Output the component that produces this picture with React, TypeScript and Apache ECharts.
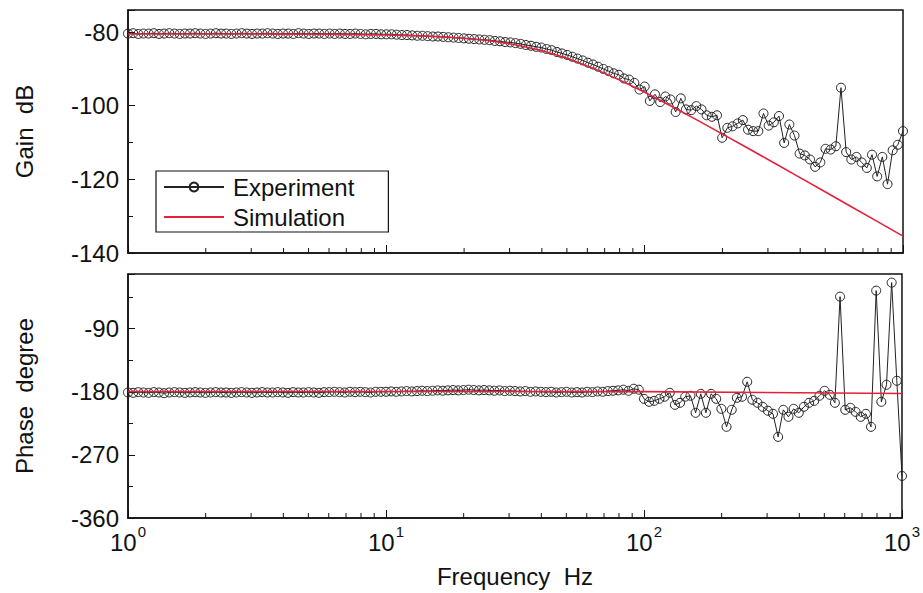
import React, { useEffect, useRef } from "react";
import * as echarts from "echarts";

// frequency mantissas (50 log-spaced points per decade)
const MANTISSA = [
  1.0, 1.047, 1.096, 1.148, 1.202, 1.259, 1.318, 1.38, 1.445, 1.514,
  1.585, 1.66, 1.738, 1.82, 1.905, 1.995, 2.089, 2.188, 2.291, 2.399,
  2.512, 2.63, 2.754, 2.884, 3.02, 3.162, 3.311, 3.467, 3.631, 3.802,
  3.981, 4.169, 4.365, 4.571, 4.786, 5.012, 5.248, 5.495, 5.754, 6.026,
  6.31, 6.607, 6.918, 7.244, 7.586, 7.943, 8.318, 8.71, 9.12, 9.55,
];
const DECADES = [1, 10, 100];
const LAST_FREQ = [1000];

const GAIN_EXP = [
  -80.4, -80.3, -80.5, -80.4, -80.4, -80.3, -80.5, -80.4, -80.3, -80.4,
  -80.5, -80.4, -80.4, -80.3, -80.4, -80.5, -80.4, -80.3, -80.4, -80.4,
  -80.5, -80.4, -80.3, -80.4, -80.5, -80.4, -80.4, -80.3, -80.4, -80.5,
  -80.4, -80.4, -80.5, -80.3, -80.4, -80.5, -80.4, -80.4, -80.5, -80.4,
  -80.5, -80.4, -80.5, -80.5, -80.4, -80.5, -80.6, -80.5, -80.5, -80.6,
  -80.6, -80.6, -80.7, -80.8, -80.8, -80.9, -81.0, -81.0, -81.1, -81.2,
  -81.2, -81.3, -81.4, -81.5, -81.6, -81.7, -81.8, -81.9, -82.0, -82.1,
  -82.2, -82.4, -82.5, -82.7, -82.8, -83.0, -83.2, -83.5, -83.7, -84.0,
  -84.2, -84.6, -84.9, -85.4, -85.8, -86.2, -86.7, -87.2, -87.7, -88.3,
  -88.8, -89.4, -90.0, -90.6, -91.2, -91.6, -92.6, -92.9, -93.8, -95.6,
  -94.8, -98.7, -96.9, -99.0, -97.5, -98.3, -101.7, -98.0, -101.0, -101.2,
  -100.1, -101.0, -102.6, -103.0, -102.6, -108.7, -106.0, -105.6, -104.8, -103.9,
  -106.5, -106.9, -106.9, -102.1, -105.4, -104.5, -102.8, -110.1, -105.1, -108.1,
  -113.0, -113.5, -114.6, -116.6, -115.4, -111.7, -111.9, -111.0, -95.1, -112.6,
  -114.6, -113.9, -115.4, -116.9, -113.3, -119.2, -113.9, -121.3, -112.1, -110.6,
  -106.9,
];

const PHASE_EXP = [
  -181, -181.5, -180.5, -181, -181.5, -180.5, -181, -182, -181, -180.5,
  -181, -181.5, -181, -180.5, -181, -181.5, -181, -180.5, -181, -181,
  -181.5, -181, -180.5, -181, -181.5, -181, -180.5, -181, -181, -180.5,
  -181, -181.5, -180.5, -181, -181, -180.5, -181, -181.5, -180.5, -180.5,
  -180, -180.5, -181, -180, -180.5, -180, -180.5, -181, -180, -180,
  -180, -179.5, -180, -179.5, -179, -179.5, -179, -178.5, -179, -178.5,
  -178, -178.5, -178, -177.5, -178, -177.5, -177, -177.5, -178, -177.5,
  -178, -178.5, -178, -179, -178.5, -179, -179.5, -179, -180, -179.5,
  -180, -180.5, -180, -181, -180.5, -180, -181, -180.5, -181, -180,
  -180.5, -179.5, -180, -179, -178.5, -178,
  -177, -178.6, -175.7, -177, -190, -194.3, -192.9, -190, -187, -181.4,
  -198.6, -195.7, -187, -185.7, -210, -182.9, -210, -182.9, -190, -204.3,
  -230, -205.7, -188.6, -187.1, -165.7, -191.4, -195.7, -201.4, -207, -211.4,
  -244.3, -205.7, -215.7, -204.3, -210, -201.4, -195.7, -192.9, -185.7, -178.6,
  -184.3, -195.7, -44.3, -205.7, -202.9, -208.6, -215.7, -211.4, -230, -35.7,
  -194.3, -170, -24.3, -164.3, -300,
];

const SIM_FREQ = [
  1, 1.259, 1.585, 1.995, 2.512, 3.162, 3.981, 5.012, 6.31, 7.943,
  10, 12.59, 15.85, 19.95, 25.12, 31.62, 39.81, 50.12, 63.1, 79.43,
  100, 125.9, 158.5, 199.5, 251.2, 316.2, 398.1, 501.2, 631, 794.3, 1000,
];
const SIM_GAIN = [
  -80.5, -80.5, -80.51, -80.51, -80.52, -80.53, -80.54, -80.57, -80.61, -80.68,
  -80.79, -80.96, -81.23, -81.67, -82.36, -83.42, -84.98, -87.11, -89.79, -92.91,
  -96.35, -99.99, -103.77, -107.64, -111.55, -115.5, -119.46, -123.44, -127.43, -131.42, -135.41,
];
const SIM_PHASE_FREQ = [1, 10, 100, 1000];
const SIM_PHASE = [-179.5, -179.5, -179.8, -182.5];

const MINOR_TICKS = [
  2, 3, 4, 5, 6, 7, 8, 9,
  20, 30, 40, 50, 60, 70, 80, 90,
  200, 300, 400, 500, 600, 700, 800, 900,
];

const GAIN_RANGE = [-140, -74];
const PHASE_RANGE = [-360, -12];

const FONT = "'Liberation Sans', Arial, sans-serif";
const INK = "#111";
const RED = "#e2223c";

export default function App() {
  const ref = useRef<HTMLDivElement>(null);

  useEffect(() => {
    if (!ref.current) return;
    const chart = echarts.init(ref.current, undefined, { renderer: "svg" });

    const FREQ = DECADES.flatMap((d) => MANTISSA.map((m) => +(m * d).toPrecision(4))).concat(LAST_FREQ);
    const gainExp = FREQ.map((f, i) => [f, GAIN_EXP[i]]);
    const phaseExp = FREQ.map((f, i) => [f, PHASE_EXP[i]]);
    const gainSim = SIM_FREQ.map((f, i) => [f, SIM_GAIN[i]]);
    const phaseSim = SIM_PHASE_FREQ.map((f, i) => [f, SIM_PHASE[i]]);

    const xAxisBase = (gridIndex: number, showLabel: boolean) => ({
      type: "log",
      logBase: 10,
      gridIndex,
      min: 1,
      max: 1000,
      axisLine: { show: true, lineStyle: { color: INK, width: 1.5 } },
      axisTick: { show: true, inside: true, length: 8, lineStyle: { color: INK, width: 1 } },
      splitLine: { show: false },
      axisLabel: {
        show: showLabel,
        margin: 6,
        formatter: (v: number) => `{b|10}{s|${Math.round(Math.log10(v))}}`,
        rich: {
          b: { fontSize: 24, fontFamily: FONT, color: INK, lineHeight: 30, verticalAlign: "bottom" },
          s: { fontSize: 15, fontFamily: FONT, color: INK, lineHeight: 30, verticalAlign: "top", padding: [0, 0, 0, 1] },
        },
      },
      name: showLabel ? "Frequency  Hz" : "",
      nameLocation: "middle",
      nameGap: 46,
      nameTextStyle: { fontSize: 24, fontFamily: FONT, color: INK },
    });

    const yAxisBase = (gridIndex: number, range: number[], interval: number, name: string) => ({
      type: "value",
      gridIndex,
      min: range[0],
      max: range[1],
      interval,
      axisLine: { show: true, lineStyle: { color: INK, width: 1.5 } },
      axisTick: { show: true, inside: true, length: 7, lineStyle: { color: INK, width: 1 } },
      minorTick: { show: true, splitNumber: 2, length: 5, lineStyle: { color: INK, width: 1 } },
      splitLine: { show: false },
      axisLabel: { fontSize: 24, fontFamily: FONT, color: INK, margin: 9, showMaxLabel: false },
      name,
      nameLocation: "middle",
      nameGap: 92,
      nameTextStyle: { fontSize: 24, fontFamily: FONT, color: INK },
    });

    const tickSeries = (idx: number, yMin: number) => ({
      type: "custom",
      xAxisIndex: idx,
      yAxisIndex: idx,
      silent: true,
      clip: false,
      z: 5,
      data: MINOR_TICKS.map((f) => [f, yMin]),
      renderItem: (_p: any, api: any) => {
        const p = api.coord([api.value(0), api.value(1)]);
        return {
          type: "line",
          shape: { x1: p[0], y1: p[1], x2: p[0], y2: p[1] - 5 },
          style: { stroke: INK, lineWidth: 1 },
        };
      },
    });

    const expStyle = {
      type: "line",
      symbol: "circle",
      symbolSize: 9,
      showAllSymbol: true,
      lineStyle: { color: "#222", width: 1 },
      itemStyle: { color: "rgba(255,255,255,0)", borderColor: "#222", borderWidth: 1 },
      z: 3,
    };

    chart.setOption({
      animation: false,
      backgroundColor: "#fff",
      textStyle: { fontFamily: FONT },
      grid: [
        { left: 128, right: 20, top: 10, height: 243, show: true, borderColor: INK, borderWidth: 1.5, backgroundColor: "transparent" },
        { left: 128, right: 20, top: 274, height: 244, show: true, borderColor: INK, borderWidth: 1.5, backgroundColor: "transparent" },
      ],
      xAxis: [xAxisBase(0, false), xAxisBase(1, true)],
      yAxis: [
        yAxisBase(0, GAIN_RANGE, 20, "Gain  dB"),
        yAxisBase(1, PHASE_RANGE, 90, "Phase  degree"),
      ],
      legend: {
        data: [
          { name: "Experiment" },
          { name: "Simulation", itemStyle: { color: "rgba(0,0,0,0)", borderWidth: 0, opacity: 0 } },
        ],
        orient: "vertical",
        left: 156,
        top: 171,
        padding: [3, 34, 2, 7],
        itemWidth: 60,
        itemHeight: 11,
        itemGap: 4,
        borderColor: INK,
        borderWidth: 1.2,
        backgroundColor: "#fff",
        textStyle: { fontSize: 24, fontFamily: FONT, color: INK, lineHeight: 26, padding: [0, 0, 0, 4] },
      },
      series: [
        { ...expStyle, name: "Experiment", xAxisIndex: 0, yAxisIndex: 0, data: gainExp },
        { ...expStyle, name: "Experiment", xAxisIndex: 1, yAxisIndex: 1, data: phaseExp },
        {
          type: "line", name: "Simulation", xAxisIndex: 0, yAxisIndex: 0, data: gainSim,
          showSymbol: false, symbol: "none", lineStyle: { color: RED, width: 1.6 }, itemStyle: { color: RED }, z: 4,
        },
        {
          type: "line", name: "Simulation", xAxisIndex: 1, yAxisIndex: 1, data: phaseSim,
          showSymbol: false, symbol: "none", lineStyle: { color: RED, width: 1.6 }, itemStyle: { color: RED }, z: 4,
        },
        tickSeries(0, GAIN_RANGE[0]),
        tickSeries(1, PHASE_RANGE[0]),
      ],
    } as any);

    return () => chart.dispose();
  }, []);

  return (
    <div
      ref={ref}
      style={{ position: "fixed", left: 0, top: 0, width: 923, height: 593, background: "#fff" }}
    />
  );
}
